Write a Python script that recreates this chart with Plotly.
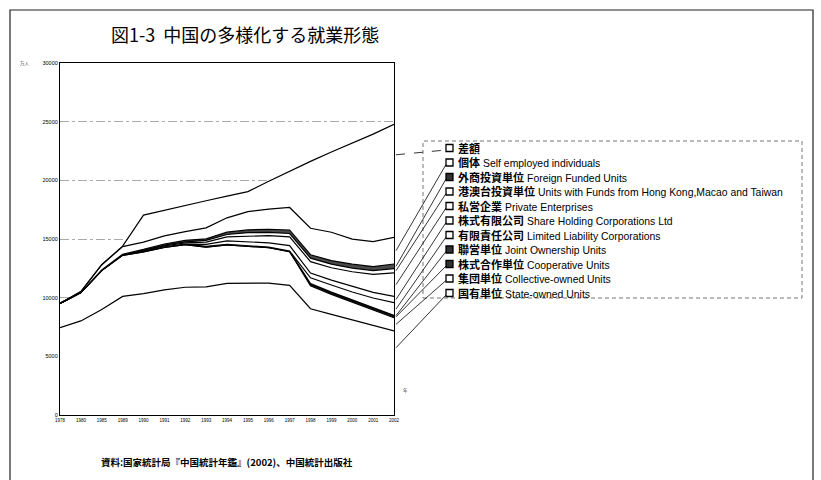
import plotly.graph_objects as go

# ---------------- data (万人) ----------------
years = ["1978", "1980", "1985", "1989", "1990", "1991", "1992", "1993", "1994",
         "1995", "1996", "1997", "1998", "1999", "2000", "2001", "2002"]
total = [9514, 10525, 12808, 14390, 17041, 17465, 17861, 18262, 18653,
         19040, 19922, 20781, 21616, 22412, 23151, 23940, 24780]
state = [7451, 8019, 8990, 10108, 10346, 10664, 10889, 10920, 11214,
         11261, 11244, 11044, 9058, 8572, 8102, 7640, 7163]
collective = [2048, 2425, 3324, 3502, 3549, 3628, 3621, 3393, 3285,
              3147, 3016, 2883, 1963, 1712, 1499, 1291, 1122]
cooperative = [0, 0, 0, 0, 0, 0, 0, 0, 0, 0, 0, 0, 136, 144, 155, 153, 161]
joint = [0, 0, 38, 43, 96, 49, 56, 66, 52, 53, 49, 43, 48, 46, 42, 45, 45]
llc = [0, 0, 0, 0, 0, 0, 0, 0, 0, 0, 0, 0, 484, 603, 687, 841, 1083]
share = [0, 0, 0, 0, 0, 0, 0, 164, 292, 317, 363, 468, 410, 420, 457, 483, 538]
private = [0, 0, 0, 0, 57, 68, 98, 186, 332, 485, 620, 750, 973, 1053, 1268, 1527, 1999]
hmt = [0, 0, 0, 0, 4, 69, 83, 155, 211, 272, 265, 281, 294, 306, 310, 326, 367]
foreign = [0, 0, 6, 47, 62, 96, 138, 133, 195, 241, 275, 300, 293, 306, 332, 345, 391]
individual = [15, 81, 450, 648, 614, 692, 740, 930, 1225, 1560, 1709, 1919,
              2259, 2414, 2136, 2131, 2269]

parts = [state, collective, cooperative, joint, llc, share, private, hmt, foreign, individual]
difference = [total[i] - sum(p[i] for p in parts) for i in range(len(years))]

# bottom -> top stacking order
series_names = ["国有単位", "集団単位", "株式合作単位", "聯営単位", "有限責任公司",
                "株式有限公司", "私営企業", "港澳台投資単位", "外商投資単位", "個体", "差額"]
series_en = ["State-owned Units", "Collective-owned Units", "Cooperative Units",
             "Joint Ownership Units", "Limited Liability Corporations",
             "Share Holding Corporations Ltd", "Private Enterprises",
             "Units with Funds from Hong Kong,Macao and Taiwan",
             "Foreign Funded Units", "Self employed individuals", ""]
series_vals = [state, collective, cooperative, joint, llc, share, private, hmt,
               foreign, individual, difference]
fills = ["white", "white", "#1a1a1a", "#111111", "white", "white", "white", "white",
         "#4a4a4a", "white", "white"]
legend_fill = ["white", "white", "#333333", "#333333", "white", "white", "white",
               "white", "#333333", "white", "white"]
leader_frac = [0.8, 0.5, 0.5, 0.5, 0.5, 0.5, 0.5, 0.5, 0.5, 0.5, 0.73]

y_ticks = [0, 5000, 10000, 15000, 20000, 25000, 30000]

# ---------------- layout geometry (pixels) ----------------
W, H = 821, 480
PL, PR, PT, PB = 60, 394, 63, 415
YMAX = 30000


def px2x(px):
    return (px - PL) / (PR - PL)


def py2y(py):
    return (PB - py) / (PB - PT)


fig = go.Figure()
xs = list(range(len(years)))
for name, vals, fc in zip(series_names, series_vals, fills):
    fig.add_trace(go.Scatter(
        x=xs, y=vals, name=name, stackgroup="one", mode="lines",
        line=dict(color="black", width=1.2), fillcolor=fc, showlegend=False,
    ))

shapes = []
annotations = []

# outer frame
shapes.append(dict(type="rect", xref="paper", yref="paper",
                   x0=px2x(10), x1=px2x(813), y0=py2y(495), y1=py2y(10),
                   line=dict(color="#222", width=1.2), fillcolor="rgba(0,0,0,0)", layer="below"))

# legend box (dashed)
shapes.append(dict(type="rect", xref="paper", yref="paper",
                   x0=px2x(423), x1=px2x(802), y0=py2y(298), y1=py2y(141),
                   line=dict(color="#777", width=1, dash="4px,3px"), fillcolor="rgba(0,0,0,0)"))

# legend entries top -> bottom
n = len(series_names)
entry_y0, entry_dy = 148, 14.5
last = len(years) - 1
running = 0.0
lows = []
for vals in series_vals:
    lows.append(running)
    running += vals[last]

for k in range(n):
    idx = n - 1 - k  # top of legend is top of stack
    ey = entry_y0 + k * entry_dy
    shapes.append(dict(type="rect", xref="paper", yref="paper",
                       x0=px2x(446), x1=px2x(453), y0=py2y(ey + 3.5), y1=py2y(ey - 3.5),
                       line=dict(color="black", width=1.3), fillcolor=legend_fill[idx]))
    band_val = lows[idx] + leader_frac[idx] * series_vals[idx][last]
    shapes.append(dict(type="line", xref="paper", yref="paper",
                       x0=1.0 + 2 / (PR - PL), y0=band_val / YMAX,
                       x1=px2x(446), y1=py2y(ey + 2),
                       line=dict(color="black", width=0.8,
                                 dash="dash" if idx == n - 1 else "solid")))
    txt = "<b>" + series_names[idx] + "</b>"
    if series_en[idx]:
        txt += " " + '<span style="font-size:10.4px">' + series_en[idx] + "</span>"
    annotations.append(dict(xref="paper", yref="paper", x=px2x(456), y=py2y(ey),
                            xanchor="left", yanchor="middle", showarrow=False, text=txt,
                            font=dict(family="Liberation Sans, Noto Sans CJK JP", size=11,
                                      color="black")))

# title
annotations.append(dict(xref="paper", yref="paper", x=px2x(109), y=py2y(34),
                        xanchor="left", yanchor="middle", showarrow=False,
                        text="図1-3  中国の多様化する就業形態",
                        font=dict(family="Noto Sans CJK JP", size=18, color="black")))
# source
annotations.append(dict(xref="paper", yref="paper", x=px2x(99), y=py2y(462),
                        xanchor="left", yanchor="middle", showarrow=False,
                        text="<b>資料:国家統計局『中国統計年鑑』(2002)、中国統計出版社</b>",
                        font=dict(family="Noto Sans CJK JP", size=9.5, color="black")))
# unit marks
annotations.append(dict(xref="paper", yref="paper", x=px2x(32), y=py2y(63),
                        xanchor="right", yanchor="middle", showarrow=False, text="万人",
                        font=dict(family="Noto Sans CJK JP", size=4.5, color="#333")))
annotations.append(dict(xref="paper", yref="paper", x=px2x(405), y=py2y(390),
                        xanchor="center", yanchor="middle", showarrow=False, text="年",
                        font=dict(family="Noto Sans CJK JP", size=4.5, color="#333")))

fig.update_layout(
    width=W, height=H,
    margin=dict(l=PL, r=W - PR, t=PT, b=H - PB, pad=0),
    paper_bgcolor="white", plot_bgcolor="white",
    showlegend=False,
    shapes=shapes, annotations=annotations,
    xaxis=dict(range=[0, len(years) - 1], tickmode="array", tickvals=xs, ticktext=years,
               showgrid=False, zeroline=False, showline=True, mirror=True,
               linecolor="black", linewidth=1.3, ticks="",
               tickfont=dict(family="Liberation Sans", size=4.5, color="black")),
    yaxis=dict(range=[0, YMAX], tickmode="array", tickvals=y_ticks,
               ticktext=[str(v) for v in y_ticks],
               showgrid=True, gridcolor="#aaa", gridwidth=1, griddash="dashdot",
               zeroline=False, showline=True, mirror=True,
               linecolor="black", linewidth=1.3, ticks="",
               tickfont=dict(family="Liberation Sans", size=5.5, color="black")),
)

fig.write_html("out.html")
